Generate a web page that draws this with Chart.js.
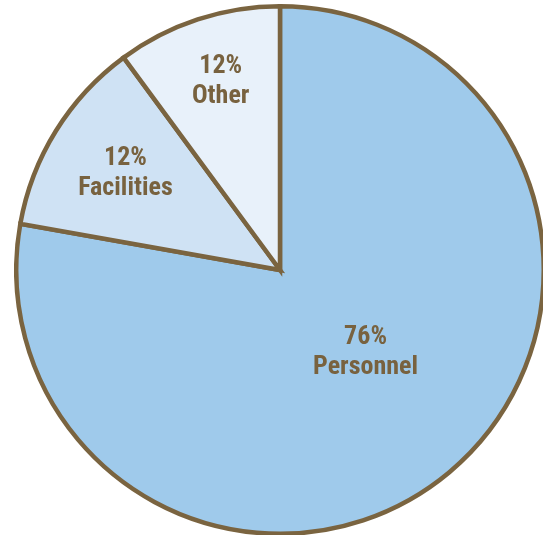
<!DOCTYPE html>
<html>
<head>
<meta charset="utf-8">
<script src="https://cdn.jsdelivr.net/npm/chart.js@4"></script>
<style>
  html, body { margin: 0; padding: 0; background: #fff; overflow: hidden; }
  #wrap { position: absolute; left: 14px; top: 4px; width: 532px; height: 532px; }
</style>
</head>
<body>
<div id="wrap"><canvas id="pie"></canvas></div>
<script>
// Slice shares as measured from the wedge angles; the printed labels are
// what the original chart shows (they do not quite match the geometry).
const categories = ["Personnel", "Facilities", "Other"];
const sliceShares = [77.8, 12.1, 10.1];
const printedPercents = ["76%", "12%", "12%"];

const sliceColors = ["#9fcaeb", "#cfe2f4", "#e8f1fa"];
const EDGE = "#7a6440";
const TEXT = "#78623f";

// Where each label sits inside its wedge: `along` is the fraction of the
// wedge's sweep, `out` the fraction of the radius.
const LABEL_SPOTS = [
  { along: 0.478, out: 0.45 },
  { along: 0.5, out: 0.69 },
  { along: 0.52, out: 0.75 },
];

// Tiny stand-in for chartjs-plugin-datalabels: two centred lines per slice.
const sliceLabels = {
  id: "sliceLabels",
  afterDatasetsDraw(chart) {
    const ctx = chart.ctx;
    const meta = chart.getDatasetMeta(0);
    ctx.save();
    ctx.fillStyle = TEXT;
    ctx.textAlign = "center";
    ctx.textBaseline = "middle";
    ctx.font = 'bold 26px "Liberation Sans Narrow", "Roboto Condensed", "DejaVu Sans Condensed", sans-serif';
    meta.data.forEach((arc, i) => {
      const p = arc.getProps(["x", "y", "startAngle", "endAngle", "outerRadius"], true);
      const spot = LABEL_SPOTS[i];
      const a = p.startAngle + (p.endAngle - p.startAngle) * spot.along;
      const r = p.outerRadius * spot.out;
      const cx = p.x + Math.cos(a) * r;
      const cy = p.y + Math.sin(a) * r;
      ctx.fillText(printedPercents[i], cx, cy - 15);
      ctx.fillText(categories[i], cx, cy + 15);
    });
    ctx.restore();
  },
};

new Chart(document.getElementById("pie").getContext("2d"), {
  type: "pie",
  data: {
    labels: categories,
    datasets: [
      {
        data: sliceShares,
        backgroundColor: sliceColors,
        borderColor: EDGE,
        borderWidth: 4.5,
        borderJoinStyle: "miter",
        hoverOffset: 0,
      },
    ],
  },
  options: {
    responsive: true,
    maintainAspectRatio: false,
    animation: false,
    layout: { padding: 0 },
    plugins: { legend: { display: false }, tooltip: { enabled: false } },
  },
  plugins: [sliceLabels],
});
</script>
</body>
</html>
